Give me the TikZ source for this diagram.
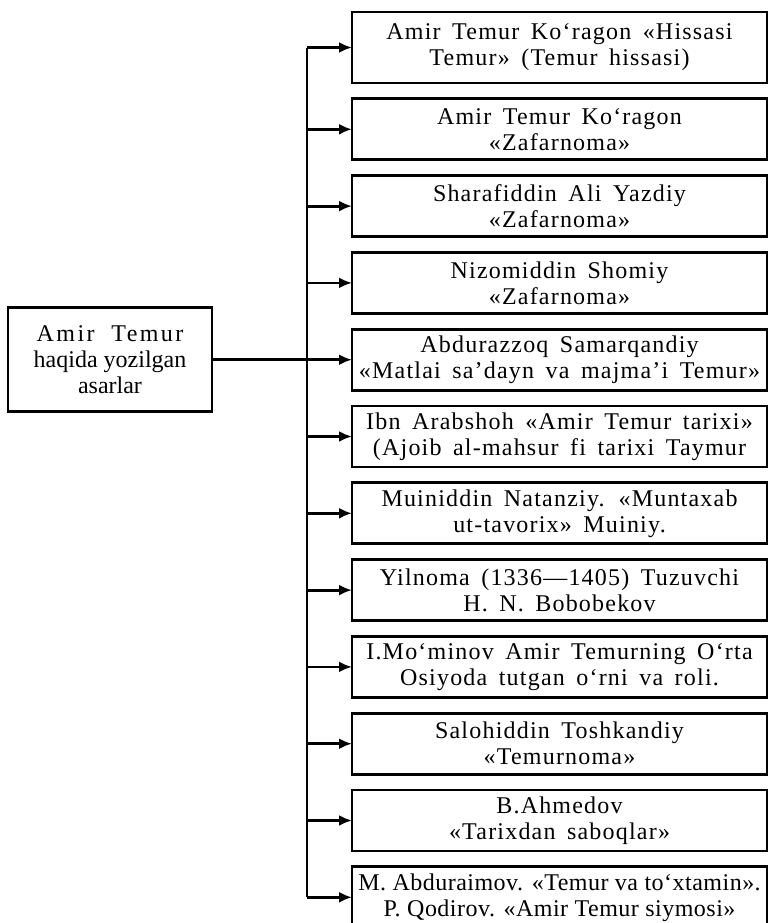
\documentclass[tikz,border=0pt]{standalone}
\usepackage{fontspec}
\setmainfont{Liberation Serif}
\newfontfamily\workfont[LetterSpace=5, WordSpace=1.6]{Liberation Serif}
\newfontfamily\tightfont[LetterSpace=2]{Liberation Serif}
\newfontfamily\widefont[LetterSpace=10, WordSpace=2]{Liberation Serif}
\usetikzlibrary{arrows.meta, positioning}
\tikzset{
    work/.style={rectangle, draw, line width=1.4pt, outer sep=0pt, minimum width=207.5pt, minimum height=30.5pt, inner sep=0.5pt, align=center, font=\workfont\fontsize{12}{13}\selectfont},
    source/.style={rectangle, draw, line width=1.4pt, outer sep=0pt, minimum width=102pt, minimum height=52pt, align=center, font=\fontsize{12}{13}\selectfont},
    arrow/.style={-{Latex[length=6.5pt,width=5.5pt]}, line width=1.4pt},
    line/.style={line width=1.4pt}
}

\begin{document}
\begin{tikzpicture}[node distance=7.9pt]
    \useasboundingbox (0,0) rectangle (385.5pt,-461.5pt);
    % works about Amir Temur
    \node[work, minimum height=35.5pt, anchor=north west] (w1) at (176pt,-6pt) {Amir Temur Ko‘ragon «Hissasi\\Temur» (Temur hissasi)};
    \node[work, below=of w1] (w2) {Amir Temur Ko‘ragon\\«Zafarnoma»};
    \node[work, below=of w2] (w3) {Sharafiddin Ali Yazdiy\\«Zafarnoma»};
    \node[work, below=of w3] (w4) {Nizomiddin Shomiy\\«Zafarnoma»};
    \node[work, below=of w4] (w5) {Abdurazzoq Samarqandiy\\«Matlai sa’dayn va majma’i Temur»};
    \node[work, below=of w5] (w6) {Ibn Arabshoh «Amir Temur tarixi»\\(Ajoib al-mahsur fi tarixi Taymur};
    \node[work, below=of w6] (w7) {Muiniddin Natanziy. «Muntaxab\\ut-tavorix» Muiniy.};
    \node[work, below=of w7] (w8) {Yilnoma (1336—1405) Tuzuvchi\\H. N. Bobobekov};
    \node[work, below=of w8] (w9) {I.Mo‘minov Amir Temurning O‘rta\\Osiyoda tutgan o‘rni va roli.};
    \node[work, below=of w9] (w10) {Salohiddin Toshkandiy\\«Temurnoma»};
    \node[work, below=of w10] (w11) {B.Ahmedov\\«Tarixdan saboqlar»};
    \node[work, below=of w11, font=\tightfont\fontsize{12}{13}\selectfont] (w12) {M. Abduraimov. «Temur va to‘xtamin».\\P. Qodirov. «Amir Temur siymosi»};

    % source box
    \node[source, left=70pt of w5] (src) {{\widefont Amir Temur}\\haqida yozilgan\\asarlar};

    % connectors
    \coordinate[left=22.5pt of w5.west] (trunk);
    \draw[line] (trunk |- w1.west) -- (trunk |- w12.west);
    \draw[arrow] (src) -- (w5);
    \foreach \i in {1,2,3,4,6,7,8,9,10,11,12}
        \draw[arrow] (trunk |- w\i.west) -- (w\i.west);
\end{tikzpicture}
\end{document}
